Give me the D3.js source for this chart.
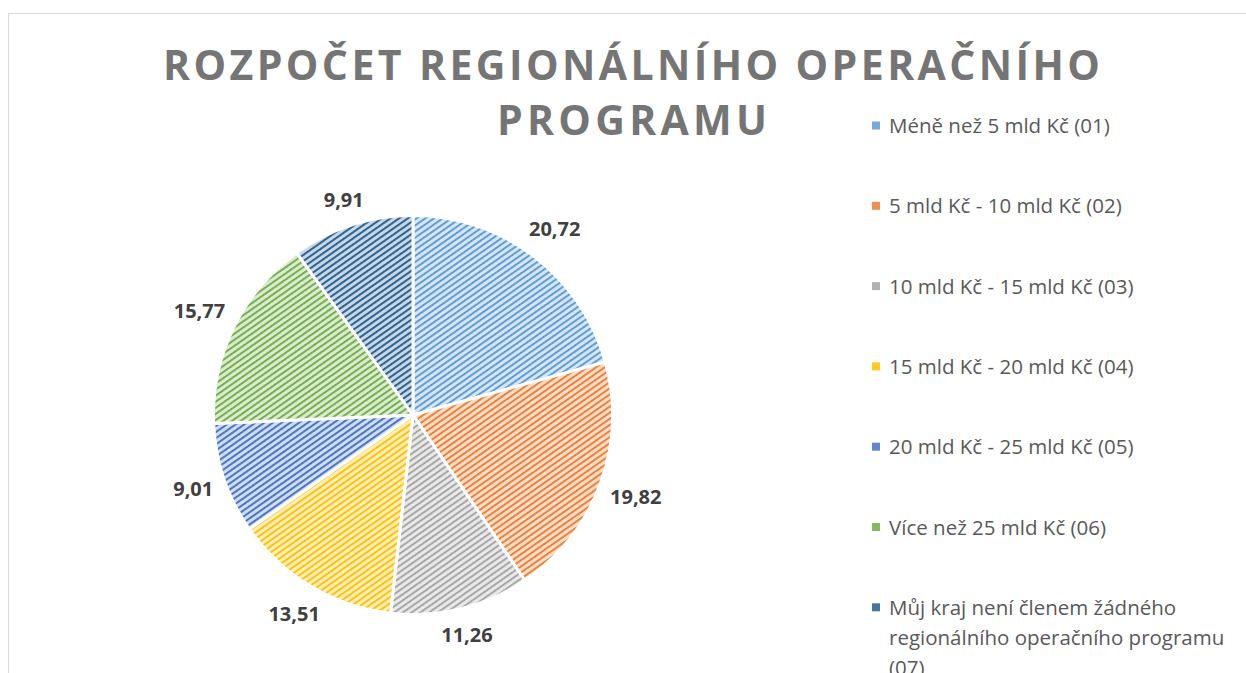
<!DOCTYPE html>
<html>
<head>
<meta charset="utf-8">
<script src="https://cdn.jsdelivr.net/npm/d3@7"></script>
<style>
  body { margin: 0; background: #fff; }
  svg { display: block; }
</style>
</head>
<body>
<div id="chart"></div>
<script>
// data
var categories = [
  "Méně než 5 mld Kč (01)",
  "5 mld Kč - 10 mld Kč (02)",
  "10 mld Kč - 15 mld Kč (03)",
  "15 mld Kč - 20 mld Kč (04)",
  "20 mld Kč - 25 mld Kč (05)",
  "Více než 25 mld Kč (06)",
  "Můj kraj není členem žádného regionálního operačního programu (07)"
];
var values = [20.72, 19.82, 11.26, 13.51, 9.01, 15.77, 9.91];
var colors = ["#5b9bd5", "#ed7d31", "#a5a5a5", "#ffc000", "#4472c4", "#70ad47", "#255e91"];
var titleLines = ["ROZPOČET REGIONÁLNÍHO OPERAČNÍHO", "PROGRAMU"];

var width = 1246, height = 673;
var font = "'Open Sans', Lato, sans-serif";
var svg = d3.select("#chart").append("svg")
  .attr("width", width)
  .attr("height", height);

// hatch patterns (wide upward diagonal)
var defs = svg.append("defs");
colors.forEach(function(c, i) {
  var light = d3.interpolateRgb(c, "#ffffff")(0.75);
  var p = defs.append("pattern")
    .attr("id", "hatch" + i)
    .attr("patternUnits", "userSpaceOnUse")
    .attr("width", 5)
    .attr("height", 5)
    .attr("patternTransform", "rotate(55)");
  p.append("rect").attr("width", 5).attr("height", 5).attr("fill", light);
  p.append("rect").attr("width", 1.9).attr("height", 5).attr("fill", c);
});

// chart area border
svg.append("rect")
  .attr("x", 8.5).attr("y", 13.5)
  .attr("width", 1400).attr("height", 900)
  .attr("fill", "none")
  .attr("stroke", "#d9d9d9")
  .attr("stroke-width", 1);

// title
var title = svg.append("g").attr("class", "title");
var titleSpans = [[163, 1100, 80], [497, 767, 135]];
titleLines.forEach(function(t, i) {
  title.append("text")
    .attr("x", titleSpans[i][0])
    .attr("y", titleSpans[i][2])
    .attr("textLength", titleSpans[i][1] - titleSpans[i][0])
    .attr("lengthAdjust", "spacing")
    .style("font-family", font)
    .style("font-weight", "bold")
    .style("font-size", "41px")
    .attr("fill", "#757575")
    .text(t);
});

// pie
var cx = 413, cy = 415, r = 199.5;
var pie = d3.pie().sort(null).value(function(d) { return d; });
var arc = d3.arc().innerRadius(0).outerRadius(r);
var arcs = pie(values);

var g = svg.append("g").attr("transform", "translate(" + cx + "," + cy + ")");
g.selectAll("path.slice")
  .data(arcs)
  .enter()
  .append("path")
  .attr("class", "slice")
  .attr("d", arc)
  .attr("fill", function(d, i) { return "url(#hatch" + i + ")"; })
  .attr("stroke", "#fff")
  .attr("stroke-width", 3);

// labels outside end
var fmt = function(v) { return d3.format(".2f")(v).replace(".", ","); };
g.selectAll("text.lbl")
  .data(arcs)
  .enter()
  .append("text")
  .attr("class", "lbl")
  .style("font-family", font)
  .style("font-weight", "bold")
  .style("font-size", "20px")
  .attr("fill", "#404040")
  .attr("text-anchor", "middle")
  .attr("dy", "0.35em")
  .text(function(d) { return fmt(d.data); })
  .each(function(d) {
    var a = (d.startAngle + d.endAngle) / 2;
    var w = this.getComputedTextLength() / 2, h = 11;
    var ext = Math.abs(Math.sin(a)) * w + Math.abs(Math.cos(a)) * h;
    var dist = r + 10 + ext;
    d3.select(this)
      .attr("x", Math.sin(a) * dist)
      .attr("y", -Math.cos(a) * dist);
  });

// legend
var legend = svg.append("g").attr("class", "legend");
var ly0 = 126, lstep = 80.3, lx = 889, maxW = 352;
categories.forEach(function(c, i) {
  var y = ly0 + i * lstep;
  legend.append("rect")
    .attr("x", 872).attr("y", y - 4.5)
    .attr("width", 8).attr("height", 8)
    .attr("fill", colors[i])
    .attr("fill-opacity", 0.85);
  var txt = legend.append("text")
    .attr("x", lx).attr("y", y)
    .style("font-family", font)
    .style("font-size", "20.5px")
    .attr("fill", "#595959");
  // wrap long labels
  var words = c.split(" "), line = [];
  var tspan = txt.append("tspan").attr("x", lx).attr("dy", "0.35em");
  words.forEach(function(wd) {
    line.push(wd);
    tspan.text(line.join(" "));
    if (tspan.node().getComputedTextLength() > maxW && line.length > 1) {
      line.pop();
      tspan.text(line.join(" "));
      line = [wd];
      tspan = txt.append("tspan").attr("x", lx).attr("dy", "30px").text(wd);
    }
  });
});
</script>
</body>
</html>
